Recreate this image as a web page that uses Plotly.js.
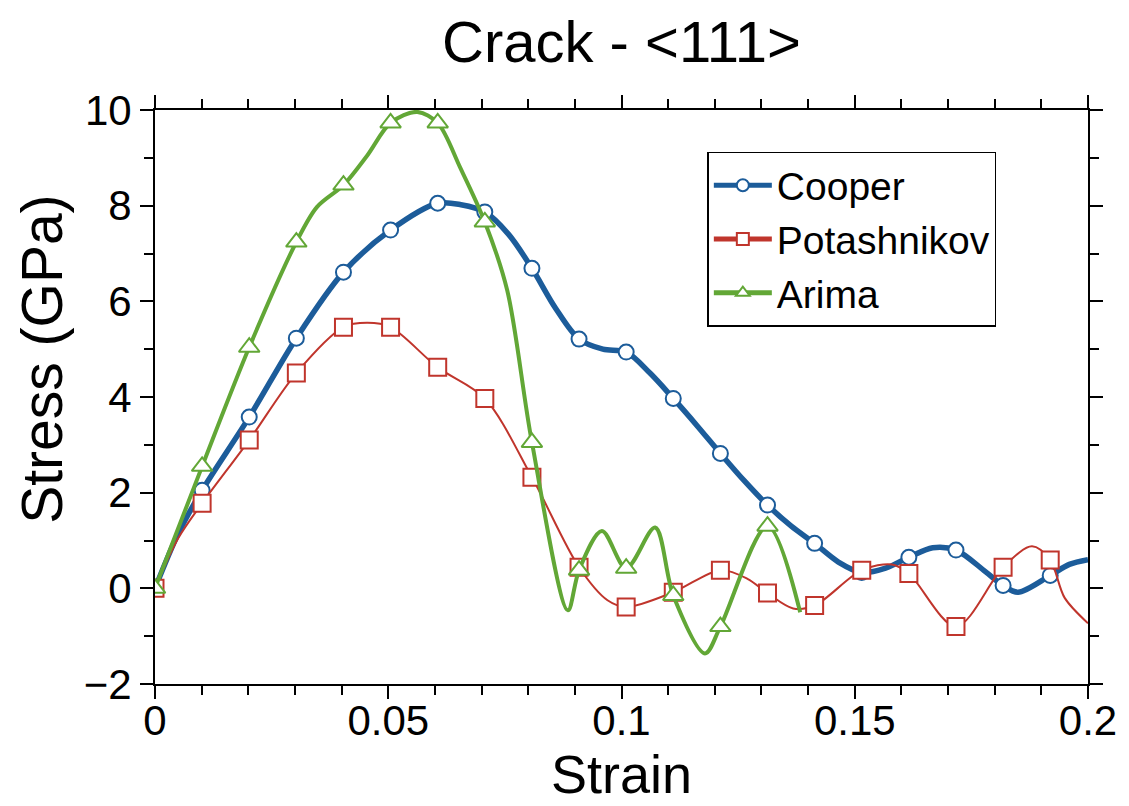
<!DOCTYPE html>
<html>
<head>
<meta charset="utf-8">
<script src="https://cdn.plot.ly/plotly-3.0.1.min.js"></script>
<style>html,body{margin:0;padding:0;background:#fff;}#chart{width:1129px;height:806px;}</style>
</head>
<body>
<div id="chart"></div>
<script>
// Marker positions (strain) shared by all series
var markStrain = [0, 0.0101, 0.0202, 0.0303, 0.0404, 0.0505, 0.0606, 0.0707, 0.0808, 0.0909,
  0.101, 0.1111, 0.1212, 0.1313, 0.1414, 0.1515, 0.1616, 0.1717, 0.1818, 0.1919];

// Cooper
var cooperStrain = [0, 0.005, 0.0101, 0.0202, 0.0303, 0.0404, 0.0505, 0.0606, 0.0656, 0.0707, 0.0758, 0.0808,
  0.0859, 0.0909, 0.096, 0.101, 0.1061, 0.1111, 0.1162, 0.1212, 0.1263, 0.1313, 0.1364, 0.1414, 0.1465,
  0.1515, 0.1566, 0.1616, 0.1667, 0.1717, 0.178, 0.1818, 0.185, 0.1919, 0.196, 0.2];
var cooperStress = [0, 1.15, 2.05, 3.58, 5.23, 6.61, 7.49, 8.05, 8.02, 7.87, 7.4, 6.69,
  5.85, 5.21, 5.0, 4.94, 4.5, 3.97, 3.4, 2.82, 2.25, 1.74, 1.3, 0.94, 0.55,
  0.33, 0.42, 0.65, 0.85, 0.8, 0.35, 0.06, -0.08, 0.27, 0.5, 0.6];

// Potashnikov
var potStrain = [0, 0.005, 0.0101, 0.0202, 0.0303, 0.0404, 0.0455, 0.0505, 0.0606, 0.0707, 0.0808,
  0.0909, 0.097, 0.101, 0.1111, 0.1212, 0.127, 0.1313, 0.1368, 0.1414, 0.1515, 0.158, 0.1616, 0.1717,
  0.1818, 0.188, 0.1919, 0.195, 0.2];
var potStress = [0, 1.05, 1.78, 3.1, 4.5, 5.46, 5.55, 5.46, 4.62, 3.97, 2.32,
  0.44, -0.25, -0.39, -0.08, 0.38, 0.2, -0.1, -0.42, -0.36, 0.38, 0.5, 0.31, -0.8,
  0.44, 0.88, 0.59, -0.2, -0.73];

// Arima
var arimaStrain = [0, 0.0101, 0.0202, 0.0303, 0.0347, 0.0404, 0.0455, 0.0505, 0.0562, 0.0606, 0.0654,
  0.0707, 0.0755, 0.0808, 0.0885, 0.0909, 0.0958, 0.101, 0.1072, 0.1111, 0.1179, 0.1212, 0.1313, 0.1383];
var arimaStress = [0, 2.55, 5.04, 7.24, 7.97, 8.43, 9.05, 9.73, 9.96, 9.73, 8.8,
  7.66, 6.23, 3.05, -0.46, 0.38, 1.2, 0.42, 1.27, -0.15, -1.36, -0.8, 1.3, -0.5];

var names = ['Cooper', 'Potashnikov', 'Arima'];
var colors = ['#1c5c9a', '#c0352c', '#62a736'];
var lineWidths = [5.5, 2, 4];
var symbols = ['circle', 'square', 'triangle-up'];
var markerSizes = [15, 17, 18];
var xs = [cooperStrain, potStrain, arimaStrain];
var ys = [cooperStress, potStress, arimaStress];

function pickMarks(xArr, yArr) {
  var mx = [], my = [];
  for (var i = 0; i < xArr.length; i++) {
    for (var j = 0; j < markStrain.length; j++) {
      if (Math.abs(xArr[i] - markStrain[j]) < 1e-6) { mx.push(xArr[i]); my.push(yArr[i]); break; }
    }
  }
  return {x: mx, y: my};
}

var traces = [];
for (var s = 0; s < 3; s++) {
  traces.push({
    x: xs[s], y: ys[s], type: 'scatter', mode: 'lines', name: names[s],
    legendgroup: names[s], showlegend: false, hoverinfo: 'skip',
    line: {color: colors[s], width: lineWidths[s], shape: 'spline', smoothing: 0.9}
  });
  var m = pickMarks(xs[s], ys[s]);
  traces.push({
    x: m.x, y: m.y, type: 'scatter', mode: 'markers', name: names[s],
    legendgroup: names[s], showlegend: false,
    marker: {symbol: symbols[s], size: markerSizes[s], color: '#ffffff', line: {color: colors[s], width: 2}}
  });
}
for (var s2 = 0; s2 < 3; s2++) {
  traces.push({
    x: [null], y: [null], type: 'scatter', mode: 'lines+markers', name: names[s2],
    legendgroup: names[s2], showlegend: true,
    line: {color: colors[s2], width: Math.min(lineWidths[s2], 4)},
    marker: {symbol: symbols[s2], size: 12, color: '#ffffff', line: {color: colors[s2], width: 2}}
  });
}

var fontFam = 'Liberation Sans, Arial, Helvetica, sans-serif';
var layout = {
  width: 1129, height: 806,
  margin: {l: 155, r: 41, t: 110, b: 122, pad: 0},
  paper_bgcolor: '#ffffff', plot_bgcolor: '#ffffff',
  font: {family: fontFam, color: '#000000'},
  title: {text: 'Crack - <111>', font: {size: 58, family: fontFam, color: '#000'},
    x: 0.5, xref: 'paper', y: 0.948, yref: 'container', yanchor: 'middle'},
  showlegend: true,
  legend: {x: 0.592, y: 0.927, xanchor: 'left', yanchor: 'top', bgcolor: '#ffffff',
    bordercolor: '#000000', borderwidth: 1.5, font: {size: 39, family: fontFam, color: '#000'},
    itemwidth: 58, tracegroupgap: 0, itemsizing: 'constant'},
  xaxis: {
    range: [0, 0.2], dtick: 0.05, tick0: 0, ticks: 'outside', ticklen: 13, tickwidth: 2, tickcolor: '#000',
    showline: true, linewidth: 2, linecolor: '#000', mirror: 'allticks', showgrid: false, zeroline: false,
    tickfont: {size: 42, family: fontFam, color: '#000'}, ticklabelstandoff: -14,
    minor: {dtick: 0.01, ticks: 'outside', ticklen: 9, tickwidth: 2, tickcolor: '#000', showgrid: false},
    title: {text: 'Strain', font: {size: 54, family: fontFam, color: '#000'}, standoff: 0}
  },
  yaxis: {
    range: [-2, 10], dtick: 2, tick0: 0, ticks: 'outside', ticklen: 13, tickwidth: 2, tickcolor: '#000',
    showline: true, linewidth: 2, linecolor: '#000', mirror: 'allticks', showgrid: false, zeroline: false,
    tickfont: {size: 42, family: fontFam, color: '#000'},
    minor: {dtick: 1, ticks: 'outside', ticklen: 9, tickwidth: 2, tickcolor: '#000', showgrid: false},
    title: {text: '', font: {size: 56, family: fontFam, color: '#000'}}
  },
  annotations: [{
    text: 'Stress (GPa)', textangle: -90, showarrow: false,
    xref: 'paper', yref: 'paper', x: -0.121, y: 0.565, xanchor: 'center', yanchor: 'middle',
    font: {size: 57, family: fontFam, color: '#000'}
  }]
};

Plotly.newPlot('chart', traces, layout, {staticPlot: true, displayModeBar: false});
</script>
</body>
</html>
